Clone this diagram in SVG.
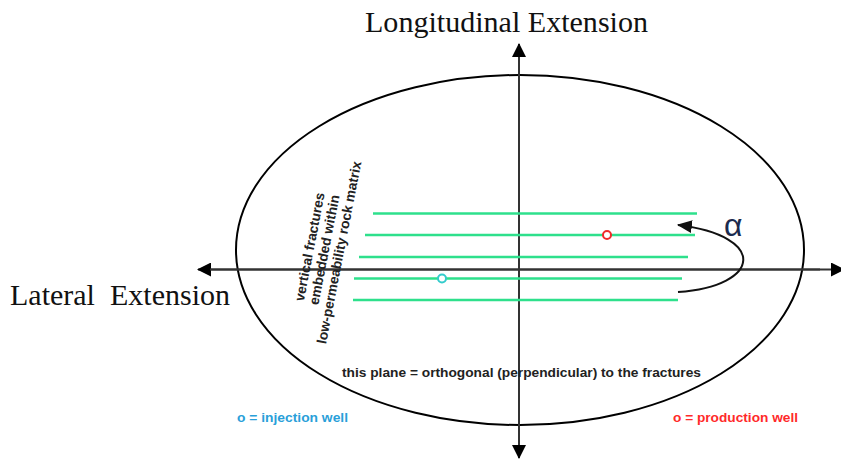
<svg xmlns="http://www.w3.org/2000/svg" width="841" height="461" viewBox="0 0 841 461">
<defs>
<style>
.axis{stroke:#333;stroke-width:2;fill:none}
.frac{stroke:#2ee08c;stroke-width:2.5}
.serif{font-family:"Liberation Serif","Times New Roman",serif;font-size:30px;fill:#111}
.sans{font-family:"Liberation Sans",Arial,sans-serif;font-weight:bold;font-size:13.7px;fill:#222}
</style>
<marker id="ah" viewBox="0 0 14 14" refX="13" refY="7" markerWidth="14" markerHeight="14" markerUnits="userSpaceOnUse" orient="auto">
<path d="M0,0 L14,7 L0,14 Z" fill="#000"/>
</marker>
<marker id="ah2" viewBox="0 0 14 12" refX="13" refY="6" markerWidth="15" markerHeight="13" markerUnits="userSpaceOnUse" orient="auto">
<path d="M0,0 L14,6 L0,12 Z" fill="#111"/>
</marker>
</defs>
<rect width="841" height="461" fill="#fff"/>
<g id="ellipse">
<ellipse cx="520" cy="250" rx="284" ry="175" fill="none" stroke="#000" stroke-width="2"/>
</g>
<g id="connectors">
<line class="axis" x1="519" y1="456" x2="519" y2="44" marker-end="url(#ah)"/>
<line class="axis" x1="519" y1="60" x2="519" y2="458" marker-end="url(#ah)"/>
<line class="axis" x1="820" y1="269.5" x2="198" y2="269.5" marker-end="url(#ah)"/>
<line class="axis" x1="210" y1="269.5" x2="844" y2="269.5" marker-end="url(#ah)"/>
<path d="M678,292 C762,286 768,236 678,225" fill="none" stroke="#111" stroke-width="2" marker-end="url(#ah2)"/>
</g>
<g id="fractures">
<line class="frac" x1="373" y1="213.5" x2="697" y2="213.5"/>
<line class="frac" x1="365" y1="235" x2="695" y2="235"/>
<line class="frac" x1="359" y1="257" x2="688" y2="257"/>
<line class="frac" x1="354" y1="278.5" x2="682" y2="278.5"/>
<line class="frac" x1="353" y1="300" x2="678" y2="300"/>
</g>
<g id="production-well">
<circle cx="607" cy="235" r="4" fill="#fff" stroke="#ee2b2b" stroke-width="2"/>
</g>
<g id="injection-well">
<circle cx="442" cy="278.5" r="4" fill="#fff" stroke="#33cccc" stroke-width="2"/>
</g>
<g id="alpha">
<text x="724" y="236" font-family="'Liberation Sans',Arial,sans-serif" font-size="32" fill="#1c2b4e">α</text>
</g>
<g id="title-longitudinal">
<text class="serif" x="365" y="32" textLength="283" lengthAdjust="spacingAndGlyphs">Longitudinal Extension</text>
</g>
<g id="title-lateral">
<text class="serif" x="10" y="305" textLength="220" lengthAdjust="spacingAndGlyphs">Lateral&#160; Extension</text>
</g>
<g id="fracture-label" transform="translate(326,250) rotate(-79)">
<text class="sans" text-anchor="middle" x="0" y="-12">vertical fractures</text>
<text class="sans" text-anchor="middle" x="0" y="3">embedded within</text>
<text class="sans" text-anchor="middle" x="0" y="18">low-permeability rock matrix</text>
</g>
<g id="plane-label">
<text class="sans" x="342" y="377" textLength="359" lengthAdjust="spacingAndGlyphs">this plane = orthogonal (perpendicular) to the fractures</text>
</g>
<g id="legend">
<text class="sans" x="237" y="422" style="fill:#2a9fd9" textLength="111" lengthAdjust="spacingAndGlyphs">o = injection well</text>
<text class="sans" x="673" y="422" style="fill:#ff2a2a" textLength="125" lengthAdjust="spacingAndGlyphs">o = production well</text>
</g>
</svg>
